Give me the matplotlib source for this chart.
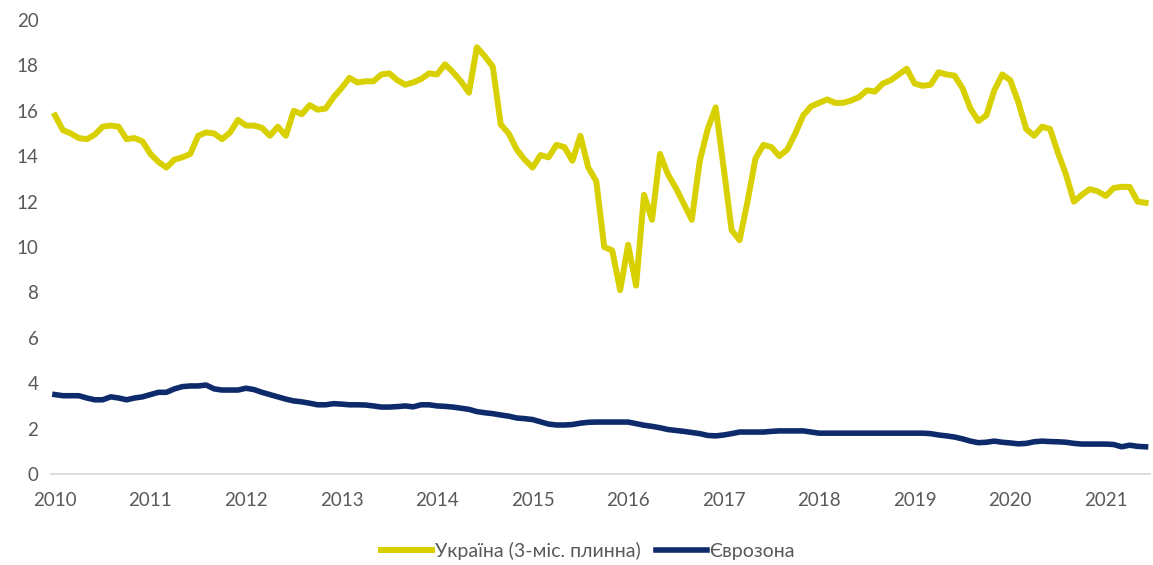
import numpy as np
import matplotlib.pyplot as plt

plt.rcParams['font.family'] = ['Lato', 'Open Sans', 'DejaVu Sans']

# monthly values, Jan 2010 .. Jun 2021
ukraine = [
    15.8, 15.15, 15.0, 14.8, 14.75, 14.95, 15.3, 15.35, 15.3, 14.75, 14.8, 14.65,
    14.1, 13.75, 13.5, 13.85, 13.95, 14.1, 14.9, 15.05, 15.0, 14.75, 15.05, 15.6,
    15.35, 15.35, 15.25, 14.9, 15.3, 14.9, 16.0, 15.85, 16.25, 16.05, 16.1, 16.6,
    17.0, 17.45, 17.25, 17.3, 17.3, 17.6, 17.65, 17.35, 17.15, 17.25, 17.4, 17.65,
    17.6, 18.05, 17.7, 17.3, 16.8, 18.8, 18.4, 17.95, 15.4, 15.0, 14.3, 13.85,
    13.5, 14.05, 13.95, 14.5, 14.4, 13.8, 14.9, 13.5, 12.9, 10.0, 9.85, 8.1,
    10.1, 8.3, 12.3, 11.2, 14.1, 13.2, 12.6, 11.9, 11.2, 13.8, 15.2, 16.15,
    13.5, 10.75, 10.3, 12.0, 13.9, 14.5, 14.4, 14.0, 14.3, 15.0, 15.8, 16.2,
    16.35, 16.5, 16.35, 16.35, 16.45, 16.6, 16.9, 16.85, 17.2, 17.35, 17.6, 17.85,
    17.2, 17.1, 17.15, 17.7, 17.6, 17.55, 17.0, 16.1, 15.55, 15.8, 16.9, 17.6,
    17.35, 16.4, 15.2, 14.9, 15.3, 15.2, 14.15, 13.2, 12.0, 12.3, 12.55, 12.45,
    12.25, 12.6, 12.65, 12.65, 12.0, 11.95,
]
eurozone = [
    3.5, 3.45, 3.45, 3.45, 3.35, 3.27, 3.27, 3.4, 3.35, 3.27, 3.35, 3.4,
    3.5, 3.6, 3.6, 3.75, 3.85, 3.88, 3.88, 3.92, 3.75, 3.7, 3.7, 3.7,
    3.78, 3.72, 3.6, 3.5, 3.4, 3.3, 3.22, 3.18, 3.12, 3.05, 3.05, 3.1,
    3.08, 3.05, 3.05, 3.04, 3.0, 2.95, 2.95, 2.97, 3.0, 2.96, 3.05, 3.05,
    3.0, 2.98, 2.95, 2.9, 2.85, 2.75, 2.7, 2.66, 2.6, 2.55, 2.47, 2.44,
    2.4, 2.3, 2.2, 2.16, 2.16, 2.18, 2.24, 2.28, 2.29, 2.29, 2.29, 2.29,
    2.29, 2.22, 2.15, 2.1, 2.04, 1.96, 1.92, 1.88, 1.83, 1.78, 1.7, 1.68,
    1.72, 1.78, 1.85, 1.85, 1.85, 1.85, 1.88, 1.9, 1.9, 1.9, 1.9, 1.85,
    1.8, 1.8, 1.8, 1.8, 1.8, 1.8, 1.8, 1.8, 1.8, 1.8, 1.8, 1.8,
    1.8, 1.8, 1.78, 1.72, 1.68, 1.63, 1.55, 1.45, 1.38, 1.4, 1.45, 1.4,
    1.37, 1.33, 1.35, 1.42, 1.45, 1.43, 1.42, 1.4, 1.35, 1.32, 1.32, 1.32,
    1.32, 1.3, 1.2, 1.27, 1.22, 1.2,
]
years = [str(y) for y in range(2010, 2022)]
labels = ['Україна (3-міс. плинна)', 'Єврозона']

months = np.arange(len(ukraine))

fig = plt.figure(figsize=(11.53, 5.65), dpi=100)
ax = fig.add_axes([0.0442, 0.161, 0.9528, 0.8036])

ax.plot(months, ukraine, color='#D8D000', lw=4.3, solid_joinstyle='round', label=labels[0])
ax.plot(months, eurozone, color='#0D2A6B', lw=4.0, solid_joinstyle='round', label=labels[1])

ax.set_xlim(-0.5, len(ukraine) - 0.5)
ax.set_ylim(0, 20)
ax.set_yticks(np.arange(0, 21, 2))
ax.set_xticks(np.arange(0, len(years) * 12, 12))
ax.set_xticklabels(years)

for s in ['top', 'right', 'left']:
    ax.spines[s].set_visible(False)
ax.spines['bottom'].set_color('#D9D9D9')
ax.spines['bottom'].set_linewidth(1.3)
ax.tick_params(axis='both', length=0, labelsize=13.5, colors='#595959')
ax.tick_params(axis='x', pad=13)
ax.tick_params(axis='y', pad=9)

ax.legend(loc='upper center', bbox_to_anchor=(0.489, -0.11), ncol=2, frameon=False,
          fontsize=14, handlelength=2.6, handletextpad=0.15, columnspacing=0.8,
          labelcolor='#595959')

fig.savefig('out.png', dpi=100)
